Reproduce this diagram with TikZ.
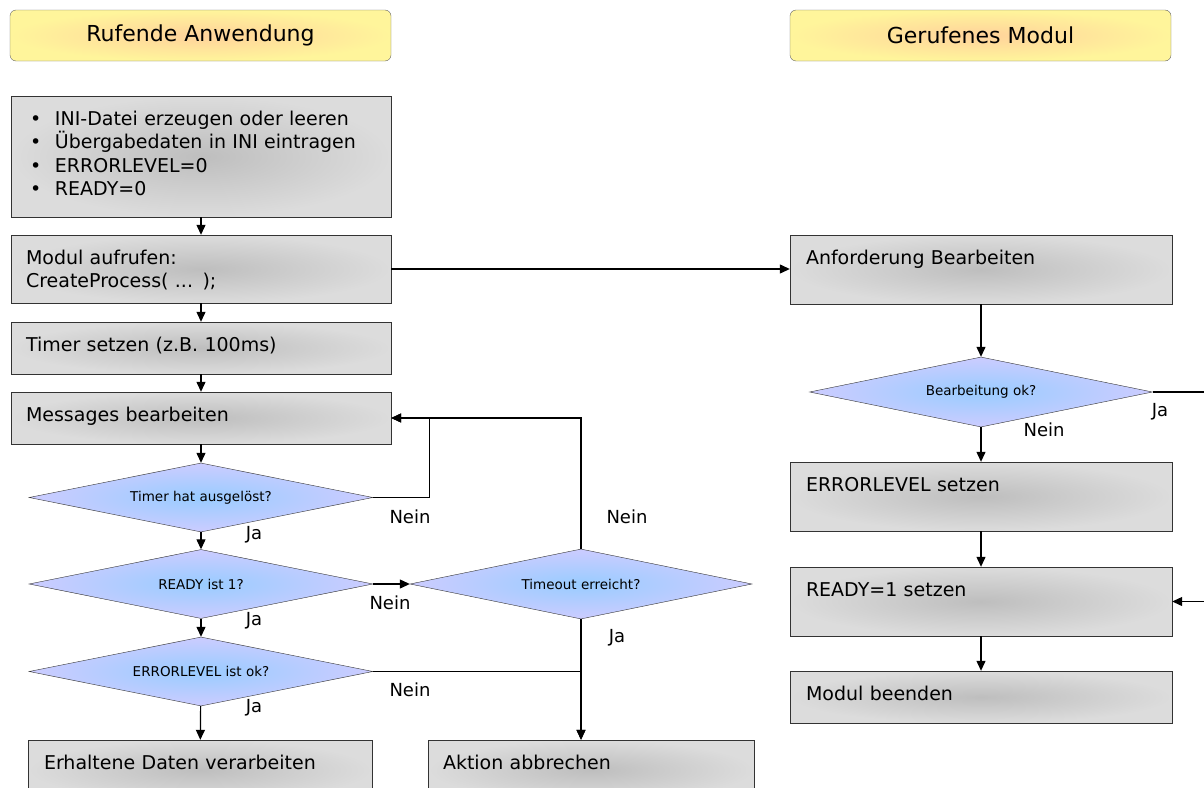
\documentclass[tikz,border=0pt]{standalone}
\usepackage{fontspec}
\setmainfont{DejaVu Sans}
\usetikzlibrary{shapes.geometric,arrows.meta}
\definecolor{hdrout}{RGB}{255,245,155}
\definecolor{hdrin}{RGB}{255,210,155}
\definecolor{boxout}{RGB}{220,220,220}
\definecolor{boxin}{RGB}{190,190,190}
\definecolor{decout}{RGB}{204,204,255}
\definecolor{decin}{RGB}{153,204,255}
\newcommand{\blt}{\makebox[29pt][l]{\hspace{4pt}\textbullet}}
\begin{document}
\begin{tikzpicture}[
        x=1pt, y=-1pt,
        hdr/.style={draw=black!60, rounded corners=6pt, shading=radial, inner color=hdrin, outer color=hdrout,
            minimum width=381pt, minimum height=51pt, font=\fontsize{22}{26}\selectfont},
        box/.style={draw=black!80, shading=radial, inner color=boxin, outer color=boxout,
            text width=350pt, align=left, inner xsep=15pt, inner ysep=15pt, text height=14pt,
            font=\fontsize{19}{23.5}\selectfont},
        dec/.style={draw=black!80, diamond, shape aspect=5, inner sep=0pt, shading=radial,
            inner color=decin, outer color=decout, minimum width=344pt, minimum height=69pt,
            font=\fontsize{13.5}{16}\selectfont},
        line/.style={draw, line width=1.2pt},
        arr/.style={line, -{Triangle[length=10pt,width=9pt]}},
        lbl/.style={font=\fontsize{18}{20}\selectfont, inner sep=0pt},
    ]
    \useasboundingbox (0,0) rectangle (1204,787);
    \node[hdr](hdrL) at (200.5,35.5){Rufende Anwendung};
    \node[hdr](hdrR) at (980.5,35.5){Gerufenes Modul};
    \node[box, minimum width=380pt, minimum height=121pt, text depth=77pt](init) at (201,156.5){%
        \blt INI-Datei erzeugen oder leeren\\
        \blt Übergabedaten in INI eintragen\\
        \blt ERRORLEVEL=0\\
        \blt READY=0};
    \node[box, minimum width=380pt, minimum height=68pt, text depth=24pt](call) at (201,269){Modul aufrufen:\\CreateProcess( ... );};
    \node[box, minimum width=380pt, minimum height=52pt, text depth=8pt](timer) at (201,348){Timer setzen (z.B. 100ms)};
    \node[box, minimum width=380pt, minimum height=52pt, text depth=8pt](msg) at (201,418){Messages bearbeiten};
    \node[dec](dtimer) at (201,497.5){Timer hat ausgelöst?};
    \node[dec](dready) at (201,584){READY ist 1?};
    \node[dec](derr) at (201,671.5){ERRORLEVEL ist ok?};
    \node[dec, minimum width=342pt, minimum height=70pt](dtimeout) at (581,584){Timeout erreicht?};
    \node[box, minimum width=344pt, minimum height=60pt, text depth=16pt, text width=312pt, inner xsep=16pt](done) at (200,770){Erhaltene Daten verarbeiten};
    \node[box, minimum width=326pt, minimum height=60pt, text depth=16pt, text width=296pt, inner xsep=15pt](abort) at (591,770){Aktion abbrechen};
    \node[box, minimum width=382pt, minimum height=69pt, text depth=25pt, inner xsep=16pt](req) at (981,269.5){Anforderung Bearbeiten};
    \node[dec, minimum width=343pt, minimum height=70pt](dok) at (981,392){Bearbeitung ok?};
    \node[box, minimum width=382pt, minimum height=69pt, text depth=25pt, inner xsep=16pt](errset) at (981,496.5){ERRORLEVEL setzen};
    \node[box, minimum width=382pt, minimum height=69pt, text depth=25pt, inner xsep=16pt](ready) at (981,601.5){READY=1 setzen};
    \node[box, minimum width=382pt, minimum height=52pt, text depth=8pt, inner xsep=16pt](quit) at (981,697){Modul beenden};

    \draw[arr] (init) -- (call);
    \draw[arr] (call.east) -- (call.east -| req.west);
    \draw[arr] (call) -- (timer);
    \draw[arr] (timer) -- (msg);
    \draw[arr] (msg) -- (dtimer);
    \draw[arr] (dtimer.east) -- ++(56,0) |- (msg.east);
    \draw[arr] (dtimeout.north) |- (msg.east);
    \draw[arr] (dtimer) -- (dready);
    \draw[arr] (dready.east) -- (dtimeout.west);
    \draw[arr] (dready) -- (derr);
    \draw[arr] (derr) -- (done);
    \draw[arr] (dtimeout.south) -- (dtimeout.south |- abort.north);
    \draw[arr] (derr.east) -| (dtimeout.south |- abort.north);
    \draw[arr] (req) -- (dok);
    \draw[arr] (dok) -- (errset);
    \draw[arr] (errset) -- (ready);
    \draw[arr] (ready) -- (quit);
    \draw[arr] (dok.east) -- ++(80,0) |- (ready.east);

    \node[lbl](n1) at (410,517){Nein};
    \node[lbl](j1) at (254,535){Ja};
    \node[lbl](n2) at (627,517){Nein};
    \node[lbl](n3) at (390,603){Nein};
    \node[lbl](j2) at (254,621){Ja};
    \node[lbl](j3) at (617,638){Ja};
    \node[lbl](n4) at (410,690){Nein};
    \node[lbl](j4) at (254,708){Ja};
    \node[lbl](j5) at (1160,412){Ja};
    \node[lbl](n5) at (1044,430){Nein};
\end{tikzpicture}
\end{document}
